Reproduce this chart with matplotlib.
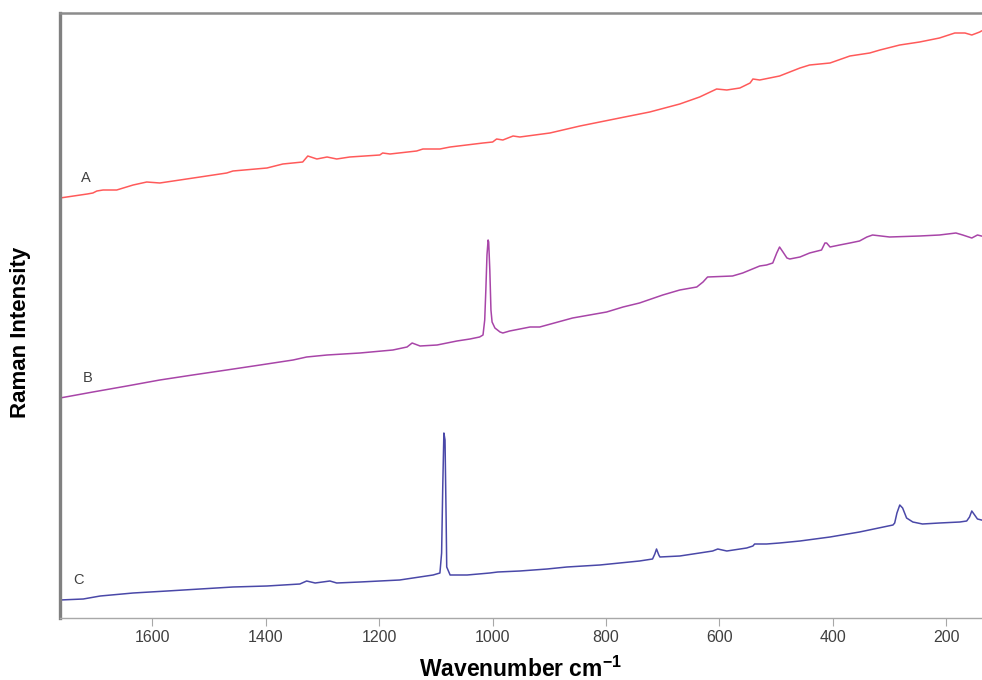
import matplotlib
matplotlib.use("Agg")
import matplotlib.pyplot as plt

plt.rcParams["font.family"] = ["Liberation Sans", "DejaVu Sans"]
plt.rcParams["mathtext.fontset"] = "custom"
plt.rcParams["mathtext.rm"] = "Liberation Sans"
plt.rcParams["mathtext.bf"] = "Liberation Sans:bold"

# Raman spectra, offset vertically (arbitrary intensity units)
wn_a = [1763, 1715, 1705, 1698, 1687, 1663, 1634, 1610, 1587, 1516, 1469, 1458,
        1398, 1370, 1335, 1326, 1310, 1292, 1275, 1252, 1199, 1194, 1181, 1134,
        1123, 1093, 1075, 1017, 1000, 993, 982, 964, 952, 899, 846, 811, 776,
        723, 670, 635, 605, 587, 564, 546, 541, 529, 494, 458, 441, 405, 370,
        335, 317, 282, 247, 212, 185, 167, 155, 141, 138]
int_a = [420, 424, 425, 427, 428, 428, 433, 436, 435, 441, 445, 447,
         450, 454, 456, 462, 459, 461, 459, 461, 463, 465, 464, 467,
         469, 469, 471, 475, 476, 479, 478, 482, 481, 485, 492, 496, 500,
         506, 514, 521, 529, 528, 530, 535, 539, 538, 542, 550, 553, 555, 562,
         565, 568, 573, 576, 580, 585, 585, 583, 586, 587]

wn_b = [1763, 1705, 1645, 1587, 1529, 1469, 1410, 1352, 1328, 1292, 1234, 1176,
        1151, 1142, 1128, 1098, 1063, 1040, 1023, 1017, 1014, 1012, 1010, 1008,
        1007, 1005, 1003, 1001, 996, 987, 982, 970, 934, 917, 859, 799, 770,
        741, 700, 670, 640, 629, 621, 577, 559, 529, 517, 506, 499, 494, 488,
        481, 476, 458, 441, 420, 414, 411, 405, 388, 370, 353, 340, 330, 300,
        247, 212, 183, 171, 155, 145, 138]
int_b = [220, 226, 232, 238, 243, 248, 253, 258, 261, 263, 265, 268,
         271, 275, 272, 273, 277, 279, 281, 283, 298, 328, 363, 378,
         376, 348, 308, 296, 290, 286, 285, 287, 291, 291, 300, 306, 311,
         315, 323, 328, 331, 336, 341, 342, 345, 352, 353, 355, 365, 371, 366,
         360, 359, 361, 365, 368, 375, 375, 371, 373, 375, 377, 381, 383, 381,
         382, 383, 385, 383, 380, 383, 382]

wn_c = [1763, 1722, 1692, 1634, 1574, 1516, 1458, 1398, 1340, 1328, 1313, 1287,
        1275, 1234, 1164, 1105, 1093, 1090, 1088, 1086, 1084, 1082, 1081, 1075,
        1045, 1005, 991, 952, 904, 869, 811, 776, 741, 718, 714, 711, 707, 705,
        670, 635, 612, 603, 587, 552, 541, 538, 517, 494, 458, 405, 353, 294,
        291, 287, 282, 277, 270, 259, 242, 212, 176, 164, 159, 155, 150, 145, 138]
int_c = [18, 19, 22, 25, 27, 29, 31, 32, 34, 37, 35, 37,
         35, 36, 38, 43, 45, 65, 131, 185, 178, 98, 51, 43,
         43, 45, 46, 47, 49, 51, 53, 55, 57, 59, 64, 69, 63, 61,
         62, 65, 67, 69, 67, 70, 72, 74, 74, 75, 77, 81, 86, 93,
         95, 105, 113, 110, 100, 96, 94, 95, 96, 97, 101, 107, 103, 99, 98]

labels = ["A", "B", "C"]
label_pos = [(1717, 440), (1714, 240), (1731, 38)]
xticks = [1600, 1400, 1200, 1000, 800, 600, 400, 200]

fig = plt.figure(figsize=(9.82, 6.8), dpi=100)
ax = fig.add_axes([60 / 982, 62 / 680, 1 - 60 / 982, 605 / 680])

ax.plot(wn_a, int_a, color="#ff5a5a", lw=1.1)
ax.plot(wn_b, int_b, color="#a845a8", lw=1.1)
ax.plot(wn_c, int_c, color="#4a48a8", lw=1.1)

for lab, (x, y) in zip(labels, label_pos):
    ax.text(x, y, lab, fontsize=10.5, color="#404040", ha="center", va="center")

ax.set_xlim(1763, 137)
ax.set_ylim(0, 605)
ax.set_xticks(xticks)
ax.set_xticklabels([str(t) for t in xticks])
ax.set_yticks([])

ax.spines["right"].set_visible(False)
ax.spines["left"].set_color("#808080")
ax.spines["left"].set_linewidth(2.4)
ax.spines["top"].set_color("#8c8c8c")
ax.spines["top"].set_linewidth(1.8)
ax.spines["bottom"].set_color("#a8a8a8")
ax.spines["bottom"].set_linewidth(1.0)
ax.tick_params(axis="x", direction="out", length=6, width=0.8, color="#a8a8a8",
               labelsize=11.5, labelcolor="#404040", pad=3)

ax.set_xlabel(r"Wavenumber cm$^{\mathbf{-1}}$", fontsize=16.5, fontweight="bold",
              color="black", labelpad=8)
fig.text(21 / 982, 1 - 332 / 680, "Raman Intensity", rotation=90, fontsize=16,
         fontweight="bold", ha="center", va="center")

fig.savefig("out.png", dpi=100)
